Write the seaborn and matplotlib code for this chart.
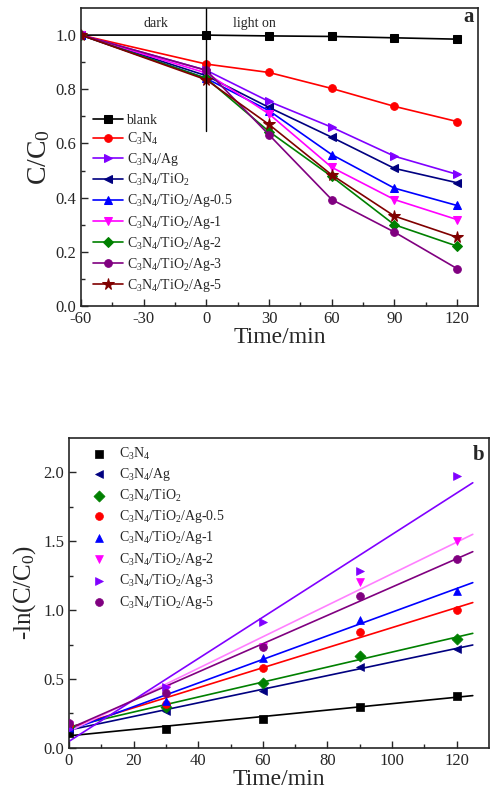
import numpy as np
import matplotlib
matplotlib.use("Agg")
import matplotlib.pyplot as plt
import seaborn as sns

# Panel a: C/C0 vs time
time_a = [-60, 0, 30, 60, 90, 120]
labels_a = ["blank", "C$_3$N$_4$", "C$_3$N$_4$/Ag", "C$_3$N$_4$/TiO$_2$",
            "C$_3$N$_4$/TiO$_2$/Ag-0.5", "C$_3$N$_4$/TiO$_2$/Ag-1",
            "C$_3$N$_4$/TiO$_2$/Ag-2", "C$_3$N$_4$/TiO$_2$/Ag-3",
            "C$_3$N$_4$/TiO$_2$/Ag-5"]
blank = [1.0, 1.0, 0.997, 0.995, 0.990, 0.985]
c3n4 = [1.0, 0.893, 0.862, 0.803, 0.737, 0.681]
c3n4_ag = [1.0, 0.870, 0.755, 0.660, 0.553, 0.486]
c3n4_tio2 = [1.0, 0.850, 0.733, 0.623, 0.508, 0.455]
ag_05 = [1.0, 0.840, 0.721, 0.559, 0.435, 0.371]
ag_1 = [1.0, 0.860, 0.709, 0.512, 0.393, 0.319]
ag_2 = [1.0, 0.840, 0.644, 0.478, 0.300, 0.221]
ag_3 = [1.0, 0.870, 0.632, 0.393, 0.273, 0.138]
ag_5 = [1.0, 0.835, 0.670, 0.484, 0.332, 0.254]
series_a = [blank, c3n4, c3n4_ag, c3n4_tio2, ag_05, ag_1, ag_2, ag_3, ag_5]
colors_a = ["#000000", "#FF0000", "#8000FF", "#000080", "#0000FF",
            "#FF00FF", "#008000", "#800080", "#800000"]
markers_a = ["s", "o", ">", "<", "^", "v", "D", "o", "*"]

# Panel b: -ln(C/C0) vs time with linear fits
time_b = [0, 30, 60, 90, 120]
labels_b = labels_a[1:]
b_c3n4 = [0.11, 0.14, 0.21, 0.30, 0.38]
b_c3n4_ag = [0.14, 0.27, 0.41, 0.59, 0.72]
b_c3n4_tio2 = [0.16, 0.30, 0.47, 0.67, 0.79]
b_ag_05 = [0.17, 0.32, 0.58, 0.84, 1.00]
b_ag_1 = [0.15, 0.34, 0.65, 0.93, 1.14]
b_ag_2 = [0.17, 0.43, 0.73, 1.20, 1.50]
b_ag_3 = [0.14, 0.44, 0.91, 1.28, 1.97]
b_ag_5 = [0.18, 0.40, 0.73, 1.10, 1.37]
series_b = [b_c3n4, b_c3n4_ag, b_c3n4_tio2, b_ag_05, b_ag_1, b_ag_2, b_ag_3, b_ag_5]
colors_b = ["#000000", "#000080", "#008000", "#FF0000", "#0000FF",
            "#FF00FF", "#8000FF", "#800080"]
line_colors_b = ["#000000", "#000080", "#008000", "#FF0000", "#0000FF",
                 "#FF80FF", "#8000FF", "#800080"]
markers_b = ["s", "<", "D", "o", "^", "v", ">", "o"]

sns.set_style("ticks")
plt.rcParams["font.family"] = ["Liberation Serif", "DejaVu Serif"]
plt.rcParams["mathtext.fontset"] = "custom"
plt.rcParams["mathtext.rm"] = "Liberation Serif"
plt.rcParams["mathtext.default"] = "regular"
plt.rcParams["axes.unicode_minus"] = False
plt.rcParams["xtick.direction"] = "in"
plt.rcParams["ytick.direction"] = "in"

fig = plt.figure(figsize=(4.9, 8.01), dpi=100)
ax1 = fig.add_axes([0.1653, 0.618, 0.810, 0.372])
ax2 = fig.add_axes([0.1408, 0.0662, 0.857, 0.3874])

# ---- panel a
for vals, lab, col, mk in zip(series_a, labels_a, colors_a, markers_a):
    ms = 8.5 if mk == "*" else 5.5
    sns.lineplot(x=time_a, y=vals, ax=ax1, color=col, marker=mk, markersize=ms,
                 markeredgecolor=col, linewidth=1.2, label=lab)
ax1.axvline(0, ymin=0.645 / 1.1, ymax=1, color="black", linewidth=1)
ax1.text(-24, 1.042, "dark", ha="center", va="center", fontsize=10)
ax1.text(23, 1.042, "light on", ha="center", va="center", fontsize=10)
ax1.text(0.99, 0.97, "a", transform=ax1.transAxes, ha="right", va="center",
         fontsize=15, fontweight="bold")
ax1.set_xlim(-60, 130)
ax1.set_ylim(0, 1.1)
ax1.set_xticks([-60, -30, 0, 30, 60, 90, 120])
ax1.set_xticks(np.arange(-45, 130, 30), minor=True)
ax1.set_yticks(np.arange(0, 1.01, 0.2))
ax1.set_yticks(np.arange(0.1, 1.1, 0.2), minor=True)
ax1.set_xlabel("Time/min", fontsize=17, labelpad=0)
ax1.set_ylabel("C/C$_0$", fontsize=20, labelpad=2)
ax1.legend(loc="lower left", bbox_to_anchor=(0.029, 0.04), frameon=False,
           fontsize=10, handlelength=2.2, handletextpad=0.25, labelspacing=0.3,
           borderpad=0, borderaxespad=0)

# ---- panel b
t_fit = np.linspace(0, 125, 50)
for vals, lab, col, lcol, mk in zip(series_b, labels_b, colors_b, line_colors_b, markers_b):
    slope, intercept = np.polyfit(time_b, vals, 1)
    sns.lineplot(x=t_fit, y=slope * t_fit + intercept, ax=ax2, color=lcol,
                 linewidth=1.2, legend=False)
    sns.scatterplot(x=time_b, y=vals, ax=ax2, color=col, marker=mk, s=32,
                    edgecolor=col, linewidth=0.5, label=lab, zorder=3)
ax2.text(0.976, 0.944, "b", transform=ax2.transAxes, ha="center", va="center",
         fontsize=15, fontweight="bold")
ax2.set_xlim(0, 130)
ax2.set_ylim(0, 2.25)
ax2.set_xticks(np.arange(0, 121, 20))
ax2.set_xticks(np.arange(10, 130, 20), minor=True)
ax2.set_yticks(np.arange(0, 2.01, 0.5))
ax2.set_yticks(np.arange(0.25, 2.25, 0.5), minor=True)
ax2.set_xlabel("Time/min", fontsize=17, labelpad=0)
ax2.set_ylabel("-ln(C/C$_0$)", fontsize=18, labelpad=4)
ax2.legend(loc="upper left", bbox_to_anchor=(0.047, 0.975), frameon=False,
           fontsize=10, handlelength=1.5, handletextpad=0.7, labelspacing=0.32,
           borderpad=0, borderaxespad=0, scatterpoints=1)

for ax in (ax1, ax2):
    ax.tick_params(which="both", direction="in", labelsize=12, width=1)
    ax.tick_params(which="major", length=5)
    ax.tick_params(which="minor", length=3)
    for sp in ax.spines.values():
        sp.set_linewidth(1.2)
    ax.grid(False)

fig.savefig("out.png", dpi=100)
